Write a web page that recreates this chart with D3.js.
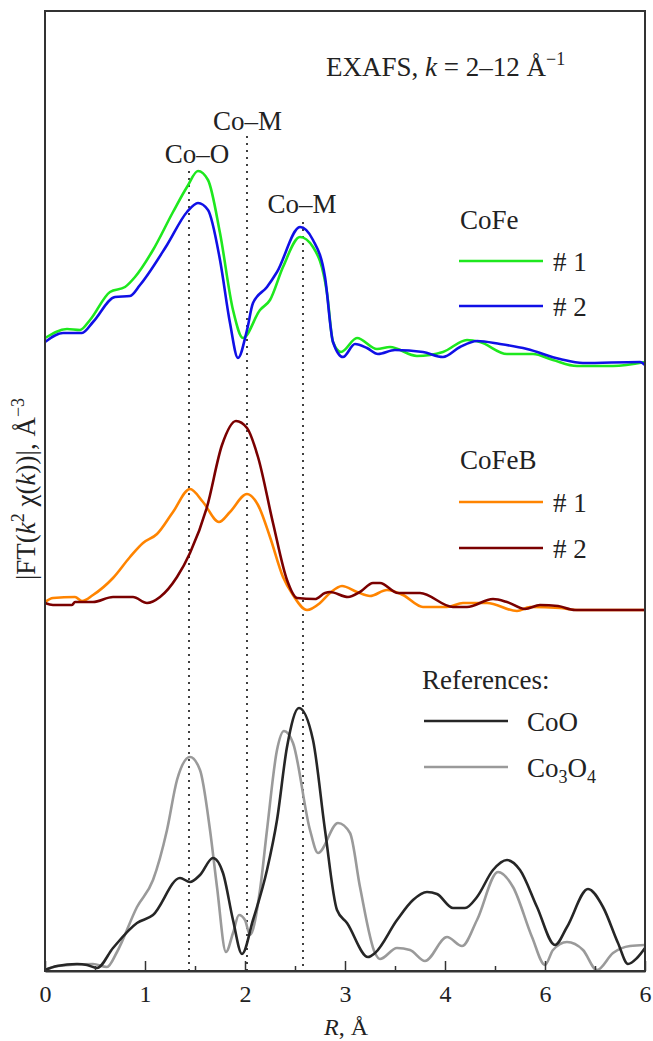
<!DOCTYPE html>
<html>
<head>
<meta charset="utf-8">
<script src="https://cdn.jsdelivr.net/npm/d3@7"></script>
<style>
  body { margin: 0; background: #fff; }
  svg text { font-family: "Liberation Serif", "Times New Roman", serif; fill: #222; }
</style>
</head>
<body>
<svg></svg>
<script>
// R values (Å) and |FT| values (arbitrary units, stacked offsets as in the figure)
const cofe1R = [0.0,0.22,0.35,0.45,0.65,0.80,0.90,1.08,1.28,1.42,1.53,1.63,1.75,1.88,1.98,2.15,2.25,2.38,2.55,2.68,2.82,2.88,2.96,3.12,3.32,3.45,3.72,3.98,4.22,4.35,4.62,4.88,5.08,5.32,5.68,6.0];
const cofe1V = [63.3,64.2,64.1,65.1,67.9,68.4,69.4,72.1,75.9,78.4,80.0,79.1,73.8,66.1,63.3,66.1,67.1,70.4,73.4,72.4,67.8,62.9,61.9,63.3,62.2,62.4,61.5,61.9,63.1,62.9,61.7,61.7,61.1,60.5,60.5,60.9];

const cofe2R = [0.0,0.18,0.37,0.48,0.70,0.85,0.95,1.22,1.42,1.53,1.63,1.75,1.85,1.93,2.02,2.08,2.22,2.32,2.55,2.68,2.80,2.88,2.98,3.10,3.22,3.33,3.50,3.78,3.98,4.15,4.32,4.55,4.82,5.15,5.38,5.95,6.0];
const cofe2V = [62.9,63.8,63.8,64.9,67.4,67.5,68.6,72.6,75.9,76.8,76.1,71.1,64.8,61.3,64.1,66.8,68.4,69.9,74.4,73.1,69.4,62.9,61.4,62.7,62.3,61.7,62.1,61.9,61.4,62.4,63.0,62.7,62.2,61.2,60.8,60.9,60.6];

const cofeb1R = [0.0,0.08,0.30,0.37,0.48,0.68,0.85,0.98,1.12,1.28,1.45,1.58,1.74,1.85,2.02,2.13,2.25,2.38,2.48,2.62,2.75,2.85,2.97,3.12,3.25,3.42,3.58,3.78,4.02,4.18,4.42,4.72,4.85,5.15,5.32,6.0];
const cofeb1V = [36.9,37.3,37.4,37.0,37.6,39.3,41.4,42.8,43.7,45.9,48.2,46.9,44.9,45.9,47.7,46.6,43.4,39.4,37.6,36.1,36.8,37.8,38.5,37.9,37.5,38.1,37.6,36.4,36.4,36.8,36.8,36.0,36.4,36.3,36.1,36.1];

const cofeb2R = [0.0,0.08,0.27,0.30,0.48,0.68,0.88,1.02,1.15,1.32,1.45,1.62,1.77,1.91,2.02,2.13,2.28,2.42,2.52,2.70,2.80,2.85,3.03,3.15,3.28,3.35,3.53,3.75,4.08,4.22,4.48,4.62,4.80,4.95,5.13,5.30,6.0];
const cofeb2V = [36.8,36.6,36.6,36.9,36.9,37.4,37.4,36.8,37.4,39.4,41.8,46.4,52.6,55.0,54.3,51.4,44.8,39.1,37.3,37.2,37.8,37.9,37.4,37.9,38.8,38.8,37.8,37.8,36.4,36.4,37.2,36.9,36.2,36.6,36.5,36.1,36.1];

const cooR = [0.0,0.12,0.32,0.42,0.52,0.68,0.92,1.08,1.35,1.45,1.55,1.68,1.78,1.88,1.97,2.08,2.22,2.32,2.42,2.54,2.68,2.80,2.92,3.02,3.23,3.30,3.52,3.68,3.82,3.92,4.08,4.20,4.32,4.48,4.62,4.75,4.92,5.10,5.22,5.43,5.58,5.73,5.83,5.92,6.0];
const cooV = [0.1,0.5,0.7,0.6,0.3,2.3,4.8,5.6,9.3,8.9,9.6,11.3,9.8,5.1,1.7,5.1,10.1,15.1,22.4,26.3,23.1,14.1,6.1,4.8,1.4,1.8,5.1,7.1,7.9,7.7,6.3,6.3,7.4,10.1,11.1,10.1,6.4,2.6,4.4,8.2,6.4,2.8,0.7,1.3,2.3];

const co3o4R = [0.0,0.13,0.48,0.62,0.72,0.92,1.08,1.22,1.32,1.45,1.55,1.65,1.72,1.81,1.88,1.94,2.00,2.05,2.15,2.22,2.32,2.39,2.48,2.65,2.73,2.93,3.05,3.15,3.30,3.35,3.52,3.65,3.80,4.02,4.17,4.32,4.53,4.68,4.87,5.00,5.08,5.22,5.38,5.52,5.68,5.85,6.0];
const co3o4V = [0.1,0.5,0.7,0.4,1.9,6.4,9.1,14.1,19.1,21.4,20.1,14.1,8.4,1.9,3.8,5.6,5.1,3.6,8.1,14.1,22.1,24.0,22.8,14.1,11.8,14.8,13.8,8.4,1.8,1.2,2.3,2.1,1.0,3.4,2.5,5.1,9.9,8.4,3.4,0.6,2.1,2.9,2.1,0.1,1.8,2.5,2.6];

const seriesNames = ["CoFe #1", "CoFe #2", "CoFeB #1", "CoFeB #2", "CoO", "Co3O4"];
const seriesColors = ["#1ee81e", "#1010e6", "#ff8400", "#7a0000", "#262626", "#9a9a9a"];

// dotted guide lines: position (Å) and top value
const guideR = [1.44, 2.02, 2.58];
const guideTop = [80.0, 83.5, 74.9];

const xTicks = [0, 1, 2, 3, 4, 5, 6];
const xTickLabels = ["0", "1", "2", "3", "4", "6", "6"];
const xMinor = [0.5, 1.5, 2.5, 3.5, 4.5, 5.5];

const width = 653;
const height = 1041;
const plotLeft = 45, plotRight = 645, plotTop = 11, plotBottom = 971;
const fs = 27, fsSmall = 18;

const svg = d3.select("svg").attr("width", width).attr("height", height);

const xScale = d3.scaleLinear().domain([0, 6]).range([plotLeft, plotRight]);
const yScale = d3.scaleLinear().domain([0, 96]).range([plotBottom, plotTop]);

const allSeries = [
  [cofe1R, cofe1V], [cofe2R, cofe2V],
  [cofeb1R, cofeb1V], [cofeb2R, cofeb2V],
  [cooR, cooV], [co3o4R, co3o4V]
];

// guide lines
svg.selectAll(".guide")
  .data(guideR)
  .enter()
  .append("line")
  .attr("class", "guide")
  .attr("x1", (d) => xScale(d))
  .attr("x2", (d) => xScale(d))
  .attr("y1", (d, i) => yScale(guideTop[i]))
  .attr("y2", plotBottom)
  .attr("stroke", "#111")
  .attr("stroke-width", 1.6)
  .attr("stroke-dasharray", "2,5");

// curves
const line = d3.line()
  .x((d) => xScale(d[0]))
  .y((d) => yScale(d[1]))
  .curve(d3.curveMonotoneX);

// references first so the sample curves sit on top
const drawOrder = [5, 4, 2, 3, 0, 1];
drawOrder.forEach((k) => {
  const pts = allSeries[k][0].map((r, i) => [r, allSeries[k][1][i]]);
  svg.append("path")
    .datum(pts)
    .attr("d", line)
    .attr("fill", "none")
    .attr("stroke", seriesColors[k])
    .attr("stroke-width", 2.6)
    .attr("stroke-linejoin", "round");
});

// frame
svg.append("rect")
  .attr("x", plotLeft).attr("y", plotTop)
  .attr("width", plotRight - plotLeft).attr("height", plotBottom - plotTop)
  .attr("fill", "none")
  .attr("stroke", "#333")
  .attr("stroke-width", 2);

// x axis, ticks pointing inwards
const xAxis = svg.append("g")
  .attr("transform", "translate(0," + plotBottom + ")")
  .call(d3.axisBottom(xScale)
    .tickValues(xTicks)
    .tickSizeInner(-10)
    .tickSizeOuter(0)
    .tickPadding(14)
    .tickFormat((d, i) => xTickLabels[i]));
xAxis.select(".domain").attr("stroke", "#333").attr("stroke-width", 2);
xAxis.selectAll(".tick line").attr("stroke", "#333").attr("stroke-width", 1.5);
xAxis.selectAll(".tick text")
  .attr("font-size", 24)
  .attr("fill", "#222")
  .style("font-family", "Liberation Serif");

svg.append("g")
  .attr("transform", "translate(0," + plotBottom + ")")
  .call(d3.axisBottom(xScale).tickValues(xMinor).tickSizeInner(-5).tickSizeOuter(0).tickFormat(""))
  .call((g) => g.select(".domain").remove())
  .selectAll(".tick line").attr("stroke", "#333").attr("stroke-width", 1.5);

// axis titles
const xt = svg.append("text")
  .attr("x", 346).attr("y", 1035)
  .attr("text-anchor", "middle")
  .attr("font-size", 24);
xt.append("tspan").attr("font-style", "italic").text("R");
xt.append("tspan").text(", Å");

const yt = svg.append("text")
  .attr("transform", "translate(35,489) rotate(-90)")
  .attr("text-anchor", "middle")
  .attr("font-size", fs);
yt.append("tspan").text("|FT(");
yt.append("tspan").attr("font-style", "italic").text("k");
yt.append("tspan").attr("font-size", fsSmall).attr("dy", -11).text("2");
yt.append("tspan").attr("dy", 11).text(" χ(");
yt.append("tspan").attr("font-style", "italic").text("k");
yt.append("tspan").text("))|, Å");
yt.append("tspan").attr("font-size", fsSmall).attr("dy", -11).text("−3");

// title text
const tt = svg.append("text")
  .attr("x", 326).attr("y", 76)
  .attr("font-size", fs);
tt.append("tspan").text("EXAFS, ");
tt.append("tspan").attr("font-style", "italic").text("k");
tt.append("tspan").text(" = 2–12 Å");
tt.append("tspan").attr("font-size", fsSmall).attr("dy", -11).text("−1");

// peak labels
const peakLabels = ["Co–O", "Co–M", "Co–M"];
const peakLabelX = [1.52, 2.025, 2.57];
const peakLabelY = [163, 130, 213];
svg.selectAll(".peak")
  .data(peakLabels)
  .enter()
  .append("text")
  .attr("class", "peak")
  .attr("x", (d, i) => xScale(peakLabelX[i]))
  .attr("y", (d, i) => peakLabelY[i])
  .attr("text-anchor", "middle")
  .attr("font-size", fs)
  .text((d) => d);

// legends
const legendTitles = ["CoFe", "CoFeB", "References:"];
const legendTitlePos = [[460, 229], [460, 469], [422, 689]];
legendTitles.forEach((t, i) => {
  svg.append("text")
    .attr("x", legendTitlePos[i][0]).attr("y", legendTitlePos[i][1])
    .attr("font-size", fs)
    .text(t);
});

const legendLabels = ["# 1", "# 2", "# 1", "# 2", "CoO", "Co3O4"];
const legendLineX = [459, 459, 459, 459, 424, 424];
const legendLineY = [261, 306, 502, 548, 721, 767];
const legendTextX = [553, 553, 553, 553, 527, 527];

legendLabels.forEach((lab, i) => {
  svg.append("line")
    .attr("x1", legendLineX[i]).attr("x2", legendLineX[i] + 84)
    .attr("y1", legendLineY[i]).attr("y2", legendLineY[i])
    .attr("stroke", seriesColors[i])
    .attr("stroke-width", 2.6);
  const tx = svg.append("text")
    .attr("x", legendTextX[i]).attr("y", legendLineY[i] + 10)
    .attr("font-size", fs);
  if (lab === "Co3O4") {
    tx.append("tspan").text("Co");
    tx.append("tspan").attr("font-size", fsSmall).attr("dy", 6).text("3");
    tx.append("tspan").attr("dy", -6).text("O");
    tx.append("tspan").attr("font-size", fsSmall).attr("dy", 6).text("4");
  } else {
    tx.text(lab);
  }
});
</script>
</body>
</html>
